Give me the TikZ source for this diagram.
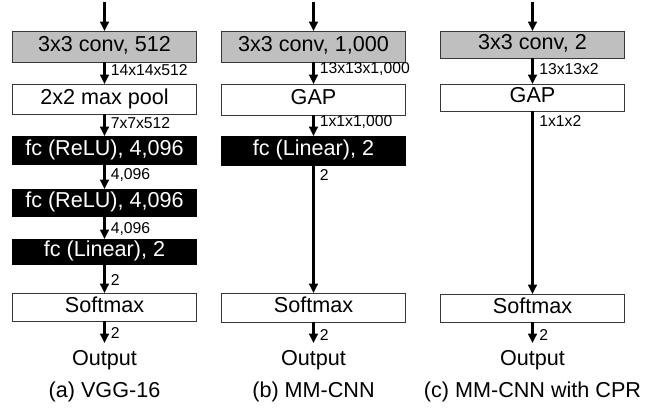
\documentclass[tikz,border=0pt]{standalone}
\usepackage{fontspec}
\setmainfont{Liberation Sans}
\usetikzlibrary{arrows.meta}
\definecolor{convgray}{RGB}{191,191,191}
\definecolor{edgegray}{RGB}{55,55,55}
\begin{document}
\begin{tikzpicture}[x=0.75pt,y=-0.75pt,
  layer/.style={draw=edgegray, line width=0.6pt, minimum width=138pt,
    inner sep=0pt, outer sep=0pt, text height=11.6pt, text depth=3.4pt,
    font=\fontsize{16.2}{19}\selectfont},
  conv/.style={layer, fill=convgray},
  plain/.style={layer, fill=white},
  dense/.style={layer, fill=black, draw=black, text=white},
  flow/.style={line width=1.7pt, -{Triangle[length=7pt,width=6.5pt]}},
  dim/.style={anchor=west, inner sep=0pt, text depth=0pt,
    font=\fontsize{11.8}{14}\selectfont},
  outlbl/.style={anchor=north, inner xsep=0pt, inner ysep=5pt,
    font=\fontsize{16.2}{19}\selectfont},
  caption/.style={anchor=base, inner sep=0pt,
    font=\fontsize{16.2}{19}\selectfont},
]
\useasboundingbox (0,0) rectangle (667,410);

% ---------------- (a) VGG-16 ----------------
\coordinate (a0) at (104.5,2);
\node[conv,  minimum height=23.25pt] (a1) at (104.5,46.5)  {3x3 conv, 512};
\node[plain, minimum height=22.5pt]  (a2) at (104.5,99)    {2x2 max pool};
\node[dense, minimum height=21pt]    (a3) at (104.5,150)   {fc (ReLU), 4,096};
\node[dense, minimum height=20.25pt] (a4) at (104.5,202.5) {fc (ReLU), 4,096};
\node[dense, minimum height=18.75pt] (a5) at (104.5,251.5) {fc (Linear), 2};
\node[plain, minimum height=21pt]    (a6) at (104.5,307)   {Softmax};
\node[outlbl] (a7) at (104.5,343) {Output};
\node[caption] (acap) at (104.5,397) {(a) VGG-16};

\draw[flow] (a0) -- (a1);
\draw[flow] (a1) -- (a2);
\draw[flow] (a2) -- (a3);
\draw[flow] (a3) -- (a4);
\draw[flow] (a4) -- (a5);
\draw[flow] (a5) -- (a6);
\draw[flow] (a6) -- (a7);

\node[dim] (ad1) at (110.5,70)  {14x14x512};
\node[dim] (ad2) at (110.5,123) {7x7x512};
\node[dim] (ad3) at (110.5,174) {4,096};
\node[dim] (ad4) at (110.5,228) {4,096};
\node[dim] (ad5) at (110.5,280) {2};
\node[dim] (ad6) at (110.5,333) {2};

% ---------------- (b) MM-CNN ----------------
\coordinate (b0) at (313.5,2);
\node[conv,  minimum height=23.25pt] (b1) at (313.5,46.5)  {3x3 conv, 1,000};
\node[plain, minimum height=23.25pt] (b2) at (313.5,99.5)  {GAP};
\node[dense, minimum height=21.75pt] (b3) at (313.5,150.5) {fc (Linear), 2};
\node[plain, minimum height=21.75pt] (b4) at (313.5,307.5) {Softmax};
\node[outlbl] (b5) at (313.5,343) {Output};
\node[caption] (bcap) at (313.5,397) {(b) MM-CNN};

\draw[flow] (b0) -- (b1);
\draw[flow] (b1) -- (b2);
\draw[flow] (b2) -- (b3);
\draw[flow] (b3) -- (b4);
\draw[flow] (b4) -- (b5);

\node[dim] (bd1) at (319.5,68.5)  {13x13x1,000};
\node[dim] (bd2) at (319.5,121.5) {1x1x1,000};
\node[dim] (bd3) at (319.5,175)   {2};
\node[dim] (bd4) at (319.5,335)   {2};

% ---------------- (c) MM-CNN with CPR ----------------
\coordinate (c0) at (532.5,2);
\node[conv,  minimum height=20.25pt] (c1) at (532.5,44.5) {3x3 conv, 2};
\node[plain, minimum height=20.25pt] (c2) at (532.5,97.5) {GAP};
\node[plain, minimum height=21pt]    (c3) at (532.5,308)  {Softmax};
\node[outlbl] (c4) at (532.5,343) {Output};
\node[caption] (ccap) at (532.5,397) {(c) MM-CNN with CPR};

\draw[flow] (c0) -- (c1);
\draw[flow] (c1) -- (c2);
\draw[flow] (c2) -- (c3);
\draw[flow] (c3) -- (c4);

\node[dim] (cd1) at (539,69)    {13x13x2};
\node[dim] (cd2) at (539,121.5) {1x1x2};
\node[dim] (cd3) at (539,335)   {2};
\end{tikzpicture}
\end{document}
